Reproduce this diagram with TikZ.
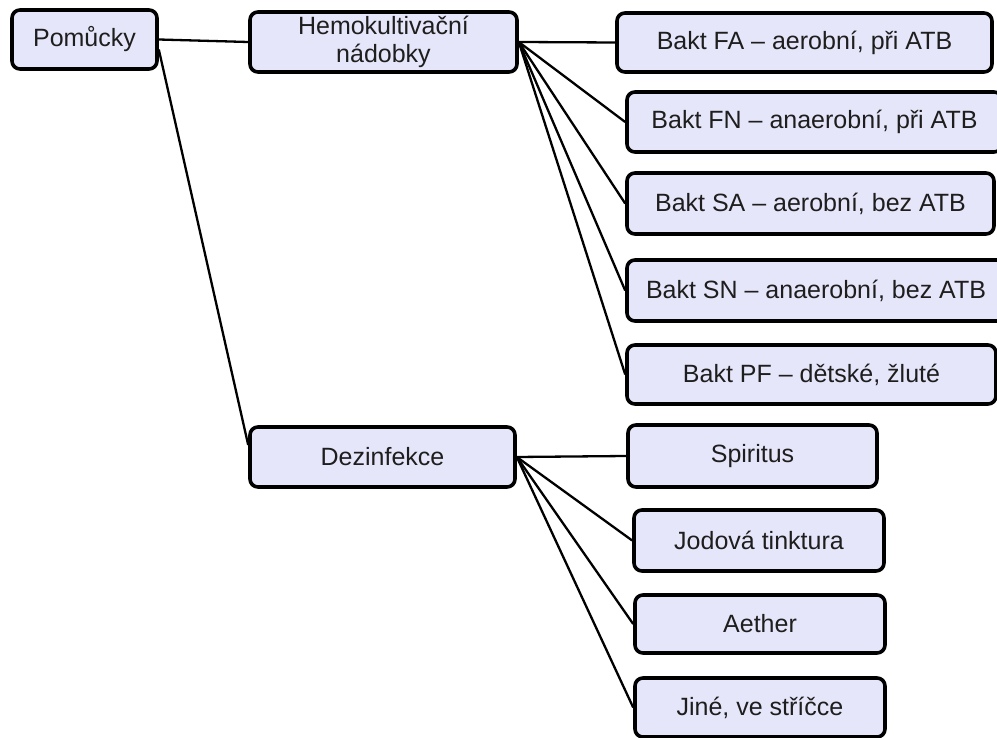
\documentclass[tikz,border=0pt]{standalone}
\usepackage{fontspec}
\setmainfont{Liberation Sans}
\definecolor{boxfill}{RGB}{230,230,250}
\definecolor{ink}{RGB}{30,30,30}
\begin{document}
\begin{tikzpicture}[x=1pt,y=-1pt,
  item/.style={draw=black, line width=3.6pt, fill=boxfill, rounded corners=8pt,
    inner sep=0pt, align=center, text=ink,
    font=\fontsize{25}{28}\selectfont},
  link/.style={draw=black, line width=2.3pt}]
\useasboundingbox (0,0) rectangle (997,738);
\clip (0,0) rectangle (997,738);

% root
\node[item, minimum width=145pt, minimum height=59pt] (pom) at (84.5,39.5) {Pomůcky};

% second level
\node[item, minimum width=267pt, minimum height=60pt] (hemo) at (383.5,42) {Hemokultivační\\nádobky};
\node[item, minimum width=265pt, minimum height=60pt] (dez) at (382.5,457) {Dezinfekce};

% blood culture bottles
\node[item, minimum width=375pt, minimum height=59pt] (fa) at (804.5,42.5) {Bakt FA – aerobní, při ATB};
\node[item, minimum width=375pt, minimum height=60pt] (fn) at (814.5,122) {Bakt FN – anaerobní, při ATB};
\node[item, minimum width=367pt, minimum height=61pt] (sa) at (810.5,203.5) {Bakt SA – aerobní, bez ATB};
\node[item, minimum width=378pt, minimum height=61pt] (sn) at (816,290.5) {Bakt SN – anaerobní, bez ATB};
\node[item, minimum width=369pt, minimum height=59pt] (pf) at (811.5,374.5) {Bakt PF – dětské, žluté};

% disinfection
\node[item, minimum width=249pt, minimum height=62pt] (spi) at (752.5,456) {Spiritus};
\node[item, minimum width=250pt, minimum height=61pt] (jod) at (759,540.5) {Jodová tinktura};
\node[item, minimum width=250pt, minimum height=58pt] (aet) at (760,624) {Aether};
\node[item, minimum width=250pt, minimum height=59pt] (jin) at (760,707.5) {Jiné, ve stříčce};

% connectors
\draw[link] (pom.east) -- (hemo.west);
\draw[link] ([yshift=-10pt]pom.east) -- ([yshift=12pt]dez.west);
\foreach \t in {fa,fn,sa,sn,pf}
  \draw[link] (hemo.east) -- (\t.west);
\foreach \t in {spi,jod,aet,jin}
  \draw[link] (dez.east) -- (\t.west);
\end{tikzpicture}
\end{document}
